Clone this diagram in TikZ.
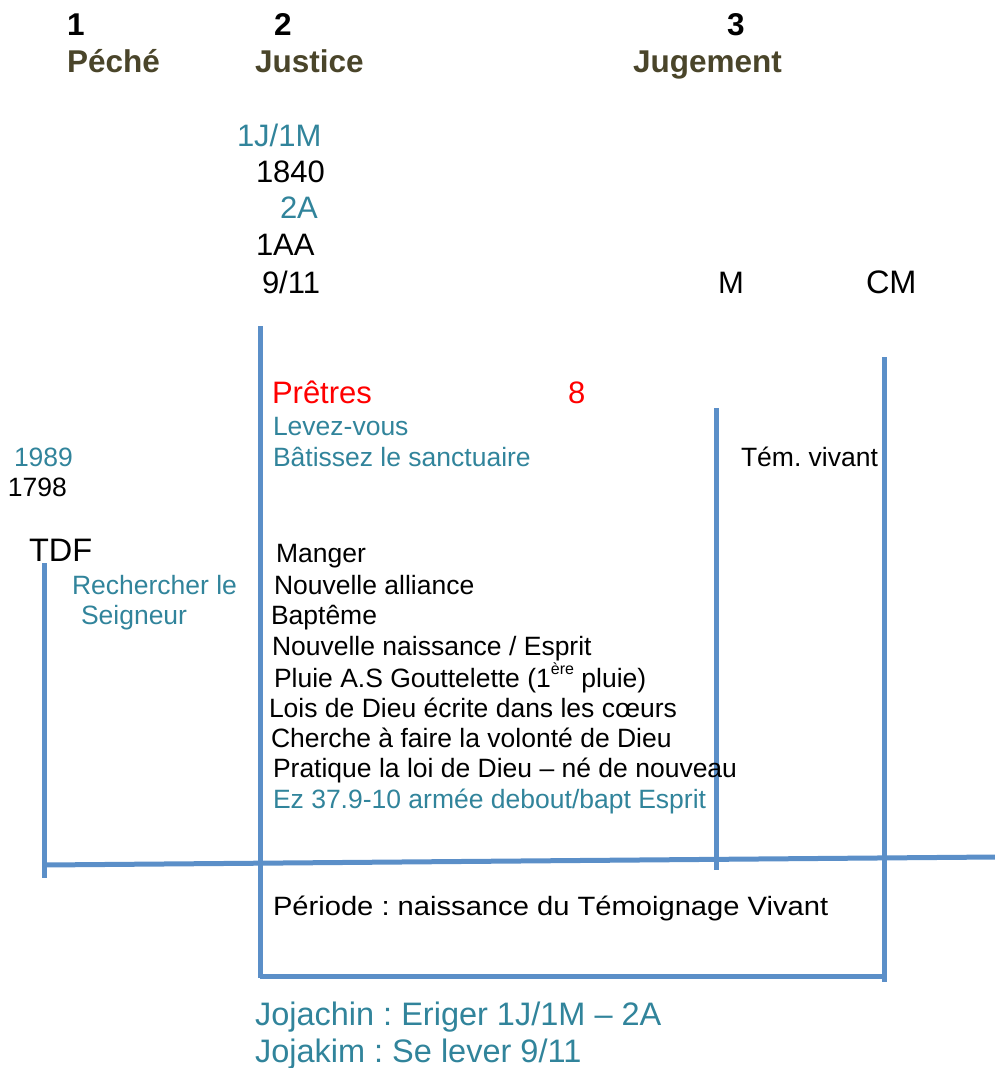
\documentclass[tikz,border=0pt]{standalone}
\usepackage{fontspec}
\setmainfont{Liberation Sans}
\frenchspacing
\definecolor{lineblue}{HTML}{5B8FC8}
\definecolor{tealtext}{HTML}{31849B}
\definecolor{olivetext}{HTML}{4A452A}
\begin{document}
\begin{tikzpicture}[x=1pt,y=-1pt,
  every node/.style={inner sep=0pt, outer sep=0pt, anchor=base west},
  big/.style={font=\fontsize{31}{31}\selectfont},
  bigger/.style={font=\fontsize{32.5}{32.5}\selectfont},
  small/.style={font=\fontsize{26.5}{26.5}\selectfont},
  head/.style={font=\fontsize{31.5}{31.5}\selectfont\bfseries},
  bar/.style={draw=lineblue, line width=5pt}]
\useasboundingbox (0,0) rectangle (995,1068);
% line end points
\coordinate (jtop) at (260,326);
\coordinate (jbot) at (260,978);
\coordinate (ltop) at (44,563);
\coordinate (lbot) at (44,878);
\coordinate (mtop) at (716,408);
\coordinate (mbot) at (716,870);
\coordinate (cmtop) at (884,357);
\coordinate (cmbot) at (884,982);
\coordinate (axl) at (44,865);
\coordinate (axr) at (995,857);
\coordinate (boxl) at (260,976);
\coordinate (boxr) at (884,976);
% lines
\draw[bar] (jtop) -- (jbot);
\draw[bar] (ltop) -- (lbot);
\draw[bar] (mtop) -- (mbot);
\draw[bar] (cmtop) -- (cmbot);
\draw[bar] (axl) -- (axr);
\draw[bar] (boxl) -- (boxr);
% headers
\node[head] (n1) at (67,35) {1};
\node[head,text=olivetext] (peche) at (67,72) {Péché};
\node[head] (n2) at (274,35) {2};
\node[head,text=olivetext] (justice) at (255,72) {Justice};
\node[head] (n3) at (727,35) {3};
\node[head,text=olivetext] (jugement) at (633,72) {Jugement};
% upper column
\node[big,text=tealtext] (j1m) at (237,146) {1J/1M};
\node[big] (y1840) at (256,182) {1840};
\node[big,text=tealtext] (a2) at (280,218) {2A};
\node[big] (aa1) at (256,255) {1AA};
\node[big] (n911) at (262,293) {9/11};
\node[big] (m) at (718,293) {M};
\node[bigger] (cm) at (866,293) {CM};
% middle
\node[big,text=red] (pretres) at (272,403) {Prêtres};
\node[big,text=red] (huit) at (568,403) {8};
\node[small,text=tealtext] (levez) at (273,435) {Levez-vous};
\node[small,text=tealtext] (batissez) at (273,466) {Bâtissez le sanctuaire};
\node[small] (tem) at (741,466) {Tém. vivant};
\node[small,text=tealtext] (y1989) at (14,466) {1989};
\node[small] (y1798) at (8,496) {1798};
\node[bigger] (tdf) at (29,561) {TDF};
\node[small,text=tealtext] (rech) at (72,594) {Rechercher le};
\node[small,text=tealtext] (seig) at (81,624) {Seigneur};
% list
\node[small] (manger) at (276,562) {Manger};
\node[small] (alliance) at (274,594) {Nouvelle alliance};
\node[small] (bapteme) at (271,624) {Baptême};
\node[small] (naissance) at (272,655) {Nouvelle naissance / Esprit};
\node[small] (pluie) at (274,687) {Pluie A.S Gouttelette (1\raisebox{13pt}{\fontsize{16}{16}\selectfont ère} pluie)};
\node[small] (lois) at (269,717) {Lois de Dieu écrite dans les cœurs};
\node[small] (cherche) at (271,747) {Cherche à faire la volonté de Dieu};
\node[small] (pratique) at (273,777) {Pratique la loi de Dieu – né de nouveau};
\node[small,text=tealtext] (ez) at (273,808) {Ez 37.9-10 armée debout/bapt Esprit};
% bottom
\node[small] (periode) at (273,915) {\scalebox{1.1}[1]{Période : naissance du Témoignage Vivant}};
\node[bigger,text=tealtext] (jojachin) at (255,1025) {Jojachin : Eriger 1J/1M – 2A};
\node[bigger,text=tealtext] (jojakim) at (255,1062) {Jojakim : Se lever 9/11};
\end{tikzpicture}
\end{document}
